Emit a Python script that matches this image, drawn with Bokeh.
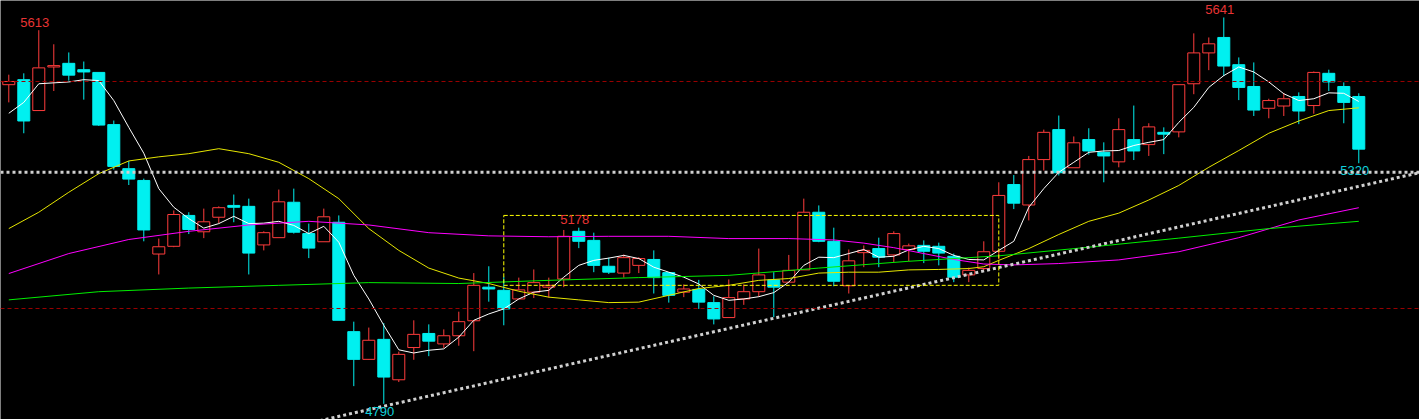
from bokeh.plotting import figure
from bokeh.models import ColumnDataSource, Range1d, Span
from bokeh.core.properties import value
from bokeh.embed import file_html
from bokeh.resources import INLINE

# ---- daily bars (open / high / low / close) ----
opens = [5493, 5504, 5436, 5532, 5540, 5526, 5520, 5405, 5308, 5282,
         5120, 5137, 5205, 5169, 5201, 5227, 5225, 5140, 5156, 5234,
         5165, 5147, 5190, 4949, 4888, 4932, 4843, 4914, 4945, 4922,
         4940, 4973, 5047, 5040, 5021, 5036, 5047, 5065, 5170, 5150,
         5093, 5078, 5095, 5108, 5079, 5036, 5042, 5013, 4980, 5021,
         5037, 5063, 5058, 5085, 5212, 5148, 5050, 5123, 5132, 5118,
         5130, 5139, 5137, 5115, 5074, 5088, 5126, 5273, 5228, 5328,
         5394, 5310, 5372, 5344, 5323, 5372, 5361, 5388, 5389, 5495,
         5563, 5597, 5537, 5489, 5441, 5446, 5467, 5447, 5518, 5489,
         5467]
highs = [5515, 5518, 5613, 5582, 5564, 5544, 5520, 5414, 5325, 5286,
         5154, 5216, 5212, 5220, 5225, 5251, 5242, 5170, 5262, 5264,
         5187, 5220, 5205, 4971, 4958, 4968, 4905, 4974, 4965, 4954,
         4993, 5078, 5093, 5070, 5068, 5086, 5068, 5173, 5178, 5167,
         5112, 5119, 5113, 5128, 5079, 5053, 5063, 5027, 5064, 5053,
         5132, 5080, 5118, 5242, 5227, 5178, 5130, 5139, 5156, 5170,
         5143, 5150, 5145, 5121, 5090, 5148, 5278, 5294, 5336, 5394,
         5425, 5379, 5397, 5366, 5419, 5447, 5408, 5399, 5493, 5606,
         5597, 5641, 5553, 5542, 5462, 5475, 5476, 5522, 5526, 5498,
         5474]
lows = [5454, 5386, 5435, 5479, 5502, 5460, 5402, 5306, 5272, 5148,
        5075, 5135, 5164, 5155, 5188, 5190, 5075, 5128, 5156, 5165,
        5111, 5147, 4974, 4829, 4887, 4790, 4838, 4887, 4895, 4913,
        4918, 4906, 5015, 4963, 5021, 5023, 5024, 5047, 5133, 5080,
        5076, 5068, 5078, 5033, 5013, 5025, 4999, 4965, 4980, 5008,
        5026, 4981, 5058, 5085, 5146, 5049, 5033, 5091, 5091, 5102,
        5104, 5100, 5095, 5058, 5058, 5084, 5108, 5219, 5194, 5304,
        5293, 5310, 5339, 5278, 5311, 5327, 5336, 5340, 5377, 5472,
        5525, 5512, 5459, 5424, 5419, 5424, 5406, 5429, 5479, 5408,
        5320]
closes = [5500, 5413, 5530, 5535, 5514, 5521, 5404, 5313, 5285, 5173,
          5136, 5207, 5174, 5191, 5222, 5223, 5122, 5167, 5235, 5168,
          5133, 5202, 4974, 4888, 4930, 4849, 4899, 4943, 4928, 4940,
          4971, 5051, 5043, 4999, 5041, 5057, 5051, 5159, 5148, 5095,
          5080, 5112, 5110, 5068, 5029, 5043, 5014, 4977, 5024, 5037,
          5074, 5047, 5084, 5212, 5148, 5060, 5105, 5128, 5113, 5165,
          5138, 5126, 5122, 5069, 5084, 5125, 5249, 5232, 5328, 5388,
          5299, 5365, 5347, 5336, 5394, 5347, 5400, 5384, 5493, 5563,
          5583, 5534, 5487, 5437, 5458, 5462, 5435, 5520, 5499, 5454,
          5351]

# ---- moving averages ----
ma5 = [5430, 5454, 5495, 5497, 5499, 5504, 5502, 5458, 5399, 5342,
       5264, 5223, 5198, 5177, 5187, 5203, 5187, 5188, 5192, 5183,
       5165, 5181, 5146, 5073, 5021, 4963, 4909, 4902, 4908, 4911,
       4937, 4974, 4988, 4999, 5021, 5036, 5040, 5069, 5095, 5106,
       5111, 5117, 5110, 5091, 5080, 5069, 5054, 5029, 5018, 5021,
       5026, 5035, 5058, 5095, 5113, 5112, 5121, 5130, 5113, 5115,
       5129, 5137, 5132, 5117, 5108, 5107, 5128, 5148, 5223, 5264,
       5300, 5322, 5344, 5347, 5348, 5359, 5366, 5372, 5410, 5443,
       5487, 5513, 5532, 5521, 5499, 5473, 5458, 5462, 5475, 5474,
       5456]

ma20_idx = [0, 2, 4, 6, 8, 10, 12, 14, 16, 18, 20, 22, 24, 26, 28, 30,
            32, 34, 36, 38, 40, 42, 44, 46, 48, 50, 52, 54, 56, 58, 60,
            62, 64, 65, 66, 68, 70, 72, 74, 76, 78, 80, 82, 84, 86, 88, 90]
ma20 = [5176, 5212, 5256, 5297, 5325, 5334, 5341, 5352, 5341, 5322,
        5286, 5242, 5176, 5128, 5089, 5067, 5055, 5038, 5025, 5019,
        5013, 5014, 5029, 5044, 5051, 5062, 5066, 5078, 5080, 5080,
        5085, 5086, 5088, 5092, 5106, 5132, 5163, 5192, 5210, 5239,
        5271, 5311, 5348, 5386, 5413, 5436, 5442]

ma60_idx = [0, 4, 8, 12, 16, 20, 24, 28, 32, 36, 40, 44, 48, 52, 55,
            57, 59, 61, 63, 65, 67, 70, 74, 78, 82, 86, 90]
ma60 = [5077, 5121, 5152, 5170, 5184, 5192, 5184, 5167, 5160, 5158,
        5159, 5159, 5154, 5154, 5151, 5144, 5134, 5121, 5108, 5098,
        5096, 5099, 5107, 5125, 5156, 5195, 5222]

ma120_idx = [0, 6, 12, 18, 24, 30, 36, 42, 48, 54, 60, 66, 72, 78, 84, 90]
ma120 = [5019, 5037, 5045, 5051, 5057, 5055, 5062, 5068, 5073, 5089,
         5104, 5116, 5135, 5155, 5176, 5192]

# ---- reference levels and annotations ----
grid_levels = [5500, 5000]
support_level = 5300
trend_anchor_idx = [30, 90]
trend_anchor_val = [4822, 5269]
box_idx = [33, 66]
box_val = [5051, 5205]
high_marks = [2, 38, 81]
low_marks = [25, 90]

UP = "#ff3c3c"
DOWN = "#00f0f0"

n = len(closes)
idx = list(range(n))
up = [c >= o for o, c in zip(opens, closes)]
body_top = [max(o, c) for o, c in zip(opens, closes)]
body_bot = [min(o, c) for o, c in zip(opens, closes)]

src = ColumnDataSource(dict(
    x=idx, high=highs, low=lows, top=body_top, bottom=body_bot,
    fill=["#000000" if u else DOWN for u in up],
    line=[UP if u else DOWN for u in up],
))

p = figure(width=1419, height=419,
           x_range=Range1d(-0.553, 94.047), y_range=Range1d(4755.5, 5678.4),
           output_backend="svg", toolbar_location=None,
           x_axis_type=None, y_axis_type=None, min_border=0,
           background_fill_color="#000000", border_fill_color="#000000",
           outline_line_color=None)
p.grid.visible = False

for lvl in grid_levels:
    p.add_layout(Span(location=lvl, dimension="width", line_color="#9a0000",
                      line_width=1, line_dash="4 3"))

# wicks above and below the body
p.segment(x0="x", y0="high", x1="x", y1="top", line_color="line", line_width=1, source=src)
p.segment(x0="x", y0="bottom", x1="x", y1="low", line_color="line", line_width=1, source=src)
# bodies: hollow red for up days, solid cyan for down days
p.vbar(x="x", top="top", bottom="bottom", width=0.8, fill_color="fill",
       line_color="line", line_width=1, source=src)

# moving averages
p.line(idx, ma5, line_color="#ffffff", line_width=1)
p.line(ma20_idx, ma20, line_color="#e6e600", line_width=1)
p.line(ma60_idx, ma60, line_color="#ff00ff", line_width=1)
p.line(ma120_idx, ma120, line_color="#00ee00", line_width=1)

# horizontal support and rising trend line
p.add_layout(Span(location=support_level, dimension="width", line_color="#d0d0d0",
                  line_width=3, line_dash="3 3"))
slope = (trend_anchor_val[1] - trend_anchor_val[0]) / (trend_anchor_idx[1] - trend_anchor_idx[0])
tx = [18, 96]
ty = [trend_anchor_val[0] + slope * (t - trend_anchor_idx[0]) for t in tx]
p.line(tx, ty, line_color="#d0d0d0", line_width=3, line_dash="3 3")

# consolidation box
p.quad(left=[box_idx[0]], right=[box_idx[1]], bottom=[box_val[0]], top=[box_val[1]],
       fill_color=None, line_color="#ffff00", line_width=1, line_dash="4 2")

# extreme value labels
p.text(x=high_marks, y=[highs[i] for i in high_marks],
       text=[str(highs[i]) for i in high_marks],
       text_color="#e83434", text_font=value("Liberation Sans"), text_font_size="13px",
       text_align="center", text_baseline="alphabetic", x_offset=-4, y_offset=-8)
p.text(x=low_marks, y=[lows[i] for i in low_marks],
       text=[str(lows[i]) for i in low_marks],
       text_color="#10d0dc", text_font=value("Liberation Sans"), text_font_size="13px",
       text_align="center", text_baseline="top", x_offset=-4, y_offset=3)

html = file_html(p, INLINE)
html = html.replace("<body>", '<body style="margin:0;background:#000000;">', 1)
open("out.html", "w").write(html)
